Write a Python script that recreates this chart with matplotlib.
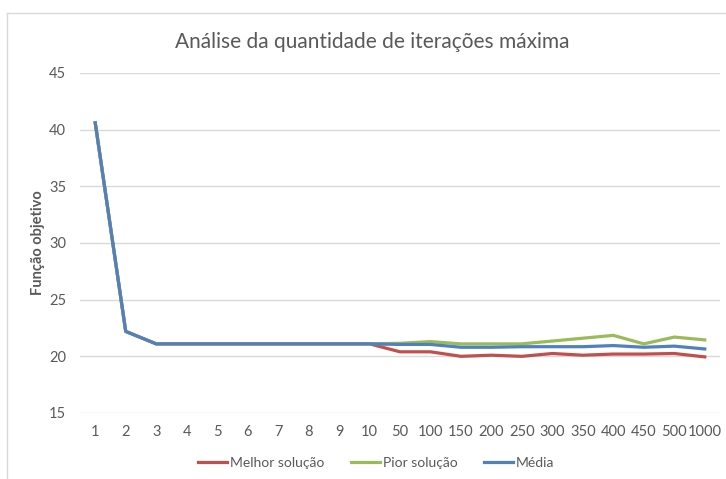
import matplotlib
matplotlib.use("Agg")
import matplotlib.pyplot as plt
from matplotlib.lines import Line2D

categories = ["1", "2", "3", "4", "5", "6", "7", "8", "9", "10",
              "50", "100", "150", "200", "250", "300", "350", "400", "450", "500", "1000"]

melhor = [40.6, 22.2, 21.1, 21.1, 21.1, 21.1, 21.1, 21.1, 21.1, 21.1,
          20.4, 20.4, 20.0, 20.1, 20.0, 20.25, 20.1, 20.2, 20.2, 20.25, 19.95]
pior = [40.6, 22.2, 21.1, 21.1, 21.1, 21.1, 21.1, 21.1, 21.1, 21.1,
        21.15, 21.3, 21.1, 21.1, 21.1, 21.35, 21.6, 21.85, 21.1, 21.7, 21.45]
media = [40.6, 22.2, 21.1, 21.1, 21.1, 21.1, 21.1, 21.1, 21.1, 21.1,
         21.05, 21.05, 20.8, 20.8, 20.85, 20.85, 20.85, 20.95, 20.8, 20.9, 20.65]

series = [("Melhor solução", melhor, "#C0504D"),
          ("Pior solução", pior, "#9BBB59"),
          ("Média", media, "#4F81BD")]

plt.rcParams["font.family"] = ["Lato", "DejaVu Sans"]
TXT = "#595959"

fig = plt.figure(figsize=(7.26, 4.79), dpi=100)
ax = fig.add_axes([80 / 726, 1 - 413 / 479, 640 / 726, 340 / 479])

x = list(range(len(categories)))
for name, vals, col in series:
    ax.plot(x, vals, color=col, linewidth=2.3, label=name, solid_joinstyle="round")

ax.set_xlim(-0.5, len(categories) - 0.5)
ax.set_ylim(15, 45)
ax.set_yticks(range(15, 46, 5))
ax.set_xticks(x)
ax.set_xticklabels(categories)
ax.grid(axis="y", color="#D9D9D9", linewidth=1)
ax.set_axisbelow(True)
for s in ax.spines.values():
    s.set_visible(False)
ax.tick_params(length=0, colors=TXT, labelsize=10.5)
ax.tick_params(axis="y", pad=10)
ax.tick_params(axis="x", pad=9)

ax.set_ylabel("Função objetivo", fontsize=10.5, fontweight="bold", color=TXT, labelpad=3)
fig.text(372 / 726, 1 - 42 / 479, "Análise da quantidade de iterações máxima",
         fontsize=15, color=TXT, ha="center", va="center")

fig.legend(loc="center", bbox_to_anchor=(376 / 726, 1 - 463 / 479), ncol=3,
           frameon=False, fontsize=10, labelcolor=TXT, handlelength=2.1,
           handletextpad=0.2, columnspacing=1.9)

# chart frame (left and top edges only visible)
fig.add_artist(Line2D([7 / 726, 7 / 726], [0, 1 - 13 / 479], color="#D9D9D9",
                      linewidth=1, transform=fig.transFigure))
fig.add_artist(Line2D([7 / 726, 1], [1 - 13 / 479, 1 - 13 / 479], color="#D9D9D9",
                      linewidth=1, transform=fig.transFigure))

fig.savefig("out.png", dpi=100)
